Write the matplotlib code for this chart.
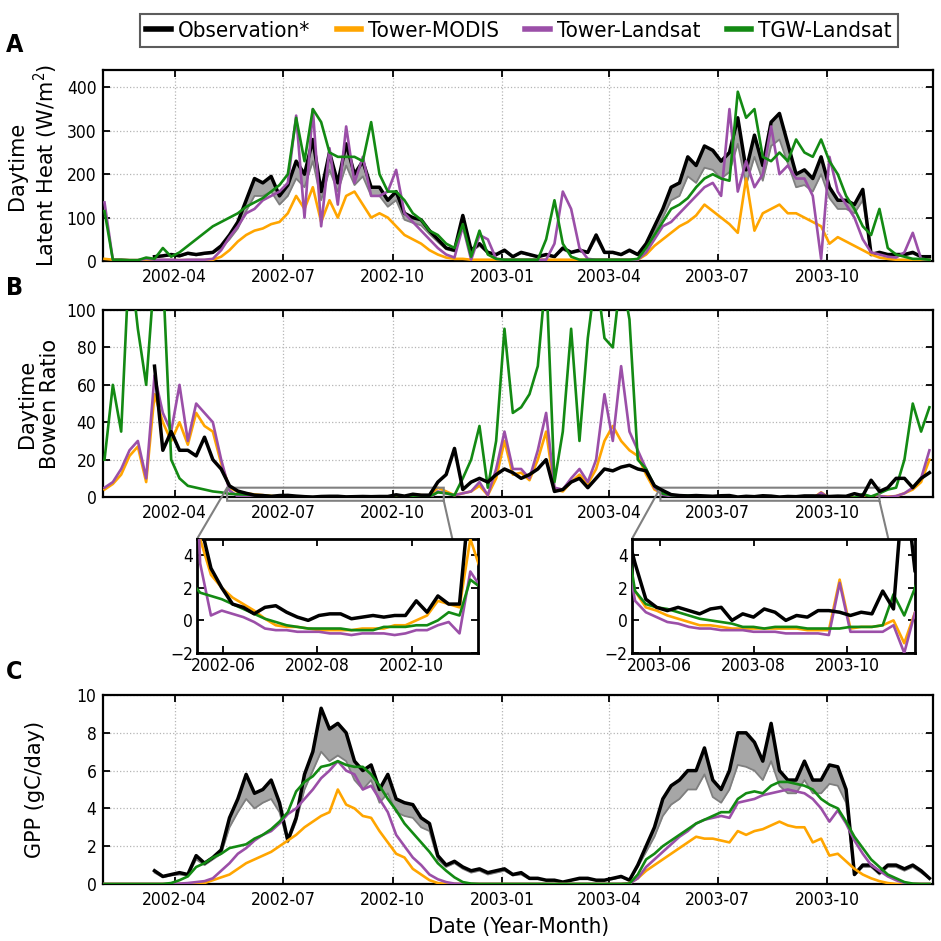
import numpy as np
import pandas as pd
import matplotlib
matplotlib.use("Agg")
import matplotlib.pyplot as plt
import matplotlib.dates as mdates
from matplotlib import font_manager

nan = np.nan

# ---------------- data (weekly samples) ----------------
start_date = "2002-02-01"
n_weeks = 100
dates = pd.date_range(start_date, periods=n_weeks, freq="7D")

# Panel A: daytime latent heat (W/m2)
A_obs = [nan, nan, nan, nan, nan, nan, 10, 12, 15, 12,
         18, 15, 18, 20, 35, 60, 90, 140, 190, 180,
         195, 150, 175, 230, 200, 280, 160, 250, 180, 270,
         200, 230, 170, 170, 140, 160, 110, 100, 95, 70,
         50, 30, 25, 105, 25, 40, 20, 15, 25, 10,
         20, 15, 10, 15, 10, 30, 20, 25, 20, 60,
         20, 20, 15, 25, 15, 40, 80, 120, 170, 180,
         240, 220, 265, 255, 230, 250, 330, 210, 290, 220,
         320, 340, 270, 200, 210, 190, 240, 170, 140, 140,
         130, 165, 15, 20, 15, 15, 15, 20, 10, 10]
A_obs_low = [nan, nan, nan, nan, nan, nan, 9, 11, 13, 11,
             16, 13, 16, 18, 30, 50, 75, 115, 150, 150,
             160, 130, 150, 190, 170, 230, 140, 210, 160, 220,
             175, 195, 150, 150, 125, 140, 95, 88, 82, 62,
             44, 27, 22, 90, 22, 35, 18, 13, 22, 9,
             18, 13, 9, 13, 9, 26, 18, 22, 18, 52,
             18, 18, 13, 22, 13, 35, 68, 100, 140, 150,
             195, 180, 215, 210, 190, 205, 270, 175, 240, 185,
             265, 280, 225, 170, 175, 160, 200, 145, 120, 120,
             110, 140, 13, 17, 13, 13, 13, 17, 9, 9]
A_tower_modis = [5, 3, 3, 2, 2, 2, 2, 2, 2, 2,
                 2, 2, 2, 3, 10, 25, 45, 60, 70, 75,
                 85, 90, 110, 150, 120, 170, 90, 140, 100, 150,
                 160, 130, 100, 110, 100, 80, 60, 50, 40, 25,
                 15, 8, 5, 5, 3, 3, 3, 3, 3, 3,
                 3, 3, 3, 3, 3, 3, 3, 3, 3, 3,
                 3, 3, 3, 3, 3, 15, 35, 50, 65, 80,
                 90, 105, 130, 115, 100, 85, 65, 190, 70, 110,
                 120, 130, 110, 110, 100, 90, 80, 40, 55, 45,
                 35, 25, 15, 8, 5, 3, 3, 3, 3, 3]
A_tower_landsat = [135, 3, 3, 2, 2, 5, 3, 3, 3, 2,
                   3, 3, 3, 5, 25, 55, 80, 110, 120, 140,
                   150, 160, 180, 335, 100, 350, 80, 260, 130, 310,
                   180, 240, 150, 150, 160, 210, 110, 90, 70, 50,
                   30, 15, 8, 80, 3, 60, 50, 5, 3, 3,
                   3, 3, 3, 3, 40, 160, 120, 30, 5, 3,
                   3, 3, 3, 3, 3, 20, 50, 80, 90, 110,
                   130, 150, 170, 180, 150, 350, 160, 230, 170, 200,
                   310, 200, 220, 190, 190, 150, 5, 240, 160, 130,
                   100, 50, 20, 15, 10, 8, 20, 65, 5, 3]
A_tgw_landsat = [115, 3, 3, 2, 2, 8, 5, 30, 10, 20,
                 35, 50, 65, 80, 90, 100, 110, 125, 135, 145,
                 160, 175, 200, 330, 230, 350, 320, 250, 240, 240,
                 240, 230, 320, 200, 160, 160, 140, 110, 95, 70,
                 60, 40, 30, 85, 10, 70, 15, 5, 3, 3,
                 3, 3, 3, 50, 140, 40, 10, 3, 3, 3,
                 3, 3, 3, 3, 5, 30, 60, 90, 120, 130,
                 145, 170, 190, 200, 190, 185, 390, 330, 350, 240,
                 230, 250, 230, 280, 250, 240, 280, 230, 200, 150,
                 120, 80, 60, 120, 30, 15, 10, 5, 5, 3]

# Panel B: daytime Bowen ratio
B_obs = [nan, nan, nan, nan, nan, nan, 70, 25, 35, 25,
         25, 22, 32, 20, 15, 6, 3.2, 2.0, 1.0, 0.8,
         0.4, 0.8, 0.9, 0.5, 0.2, 0.0, 0.3, 0.4, 0.4, 0.1,
         0.2, 0.3, 0.2, 0.3, 0.3, 1.2, 0.5, 1.5, 1.0, 1.0,
         8, 12, 26, 4, 8, 10, 8, 12, 15, 13,
         10, 12, 15, 20, 3, 4, 8, 10, 5, 10,
         15, 14, 16, 17, 15, 14, 6, 3.5, 1.3, 0.8,
         0.6, 0.8, 0.6, 0.4, 0.7, 0.8, 0.0, 0.4, 0.2, 0.7,
         0.5, 0.0, 0.3, 0.2, 0.6, 0.6, 0.5, 0.3, 0.5, 0.4,
         1.8, 0.7, 9, 3, 5, 10, 10, 5, 10, 13]
B_tower_modis = [4, 7, 12, 22, 27, 8, 55, 40, 30, 40,
                 28, 45, 38, 35, 18, 5, 2.8, 2.0, 1.4, 1.0,
                 0.6, 0.1, -0.3, -0.4, -0.4, -0.5, -0.6, -0.6, -0.6, -0.6,
                 -0.5, -0.5, -0.5, -0.3, -0.3, 0.0, 0.3, 1.2, 1.0, 0.8,
                 5, 3, 1, 2, 3, 6, 1, 10, 30, 12,
                 13, 9, 20, 35, 4, 3, 8, 12, 7, 15,
                 30, 38, 30, 25, 22, 12, 4, 1.8, 0.8, 0.6,
                 0.3, 0.1, -0.1, -0.3, -0.3, -0.4, -0.5, -0.5, -0.5, -0.5,
                 -0.5, -0.5, -0.5, -0.6, -0.6, -0.6, 2.5, -0.5, -0.4, -0.4,
                 -0.3, 0.0, -1.4, 0.5, 0.2, 0.5, 2, 4, 8, 20]
B_tower_landsat = [5, 8, 15, 25, 30, 10, 65, 45, 35, 60,
                   30, 50, 45, 40, 20, 3.5, 0.3, 0.6, 0.4, 0.2,
                   -0.1, -0.5, -0.6, -0.6, -0.7, -0.7, -0.7, -0.8, -0.8, -0.9,
                   -0.8, -0.8, -0.8, -0.9, -0.8, -0.6, -0.6, -0.3, -0.1, -0.8,
                   3, 2, 1, 2, 3, 8, 1, 15, 35, 15,
                   15, 10, 25, 45, 5, 4, 10, 15, 8, 20,
                   55, 30, 70, 35, 25, 15, 5, 1.2, 0.5, 0.2,
                   -0.1, -0.2, -0.4, -0.5, -0.5, -0.6, -0.6, -0.6, -0.7, -0.7,
                   -0.7, -0.8, -0.8, -0.8, -0.8, -0.9, 2.3, -0.7, -0.7, -0.7,
                   -0.7, -0.3, -2.0, 0.5, 0.0, 0.5, 2, 5, 10, 25]
B_tgw_landsat = [20, 60, 35, 130, 90, 60, 120, 120, 20, 10,
                 6, 5, 4, 3, 2.5, 1.7, 1.5, 1.3, 1.0, 0.7,
                 0.4, 0.1, -0.1, -0.3, -0.4, -0.5, -0.5, -0.5, -0.5, -0.6,
                 -0.6, -0.6, -0.4, -0.4, -0.4, -0.3, -0.3, 0.0, 0.5, 0.3,
                 2.5, 2, 1, 10, 20, 38, 5, 30, 90, 45,
                 48, 55, 70, 120, 8, 35, 90, 30, 85, 120,
                 85, 80, 120, 95, 20, 15, 6, 1.8, 1.0, 0.8,
                 0.7, 0.5, 0.3, 0.1, 0.0, -0.1, -0.2, -0.4, -0.4, -0.5,
                 -0.4, -0.4, -0.4, -0.5, -0.5, -0.5, -0.5, -0.4, -0.4, -0.4,
                 -0.3, 1.6, 0.3, 2, 4, 5, 20, 50, 35, 48]

# Panel C: GPP (gC/day)
C_obs = [nan, nan, nan, nan, nan, nan, 0.7, 0.4, 0.5, 0.6,
         0.5, 1.5, 1.1, 1.4, 1.8, 3.5, 4.5, 5.8, 4.8, 5.0,
         5.5, 4.3, 2.3, 3.5, 5.8, 7.0, 9.3, 8.2, 8.5, 8.0,
         6.5, 6.0, 6.3, 5.0, 5.8, 4.5, 4.3, 4.2, 3.5, 3.2,
         1.5, 1.0, 1.2, 0.9, 0.7, 0.8, 0.6, 0.7, 0.8, 0.5,
         0.6, 0.3, 0.3, 0.2, 0.2, 0.1, 0.2, 0.3, 0.3, 0.2,
         0.2, 0.3, 0.4, 0.2, 1.0, 2.0, 3.0, 4.5, 5.2, 5.5,
         6.0, 6.0, 7.2, 5.5, 5.0, 6.0, 8.0, 8.0, 7.5, 6.5,
         8.5, 6.0, 5.5, 5.5, 6.5, 5.5, 5.5, 6.3, 6.2, 5.0,
         0.5, 1.0, 1.0, 0.6, 1.0, 1.0, 0.8, 1.0, 0.7, 0.3]
C_obs_low = [nan, nan, nan, nan, nan, nan, 0.6, 0.35, 0.45, 0.5,
             0.45, 1.3, 1.0, 1.3, 1.6, 3.0, 3.8, 4.5, 4.0, 4.3,
             4.5, 3.8, 2.2, 3.3, 5.0, 6.0, 7.0, 6.5, 6.8, 6.5,
             5.5, 5.0, 5.5, 4.3, 4.8, 3.8, 3.6, 3.5, 3.0, 2.8,
             1.3, 0.9, 1.1, 0.8, 0.6, 0.7, 0.5, 0.6, 0.7, 0.45,
             0.5, 0.25, 0.25, 0.2, 0.2, 0.1, 0.2, 0.25, 0.25, 0.2,
             0.2, 0.25, 0.35, 0.2, 0.9, 1.7, 2.5, 3.6, 4.2, 4.5,
             5.0, 5.0, 5.8, 4.6, 4.3, 5.0, 6.3, 6.2, 6.0, 5.5,
             6.5, 5.2, 4.8, 4.8, 5.5, 4.8, 4.8, 5.3, 5.2, 4.3,
             0.5, 0.9, 0.9, 0.5, 0.9, 0.9, 0.7, 0.9, 0.6, 0.3]
C_tower_modis = [0, 0, 0, 0, 0, 0, 0, 0, 0, 0,
                 0, 0, 0.05, 0.2, 0.35, 0.5, 0.8, 1.1, 1.3, 1.5,
                 1.7, 2.0, 2.3, 2.6, 3.0, 3.3, 3.6, 3.8, 5.0, 4.2,
                 4.0, 3.6, 3.5, 2.8, 2.2, 1.6, 1.4, 0.8, 0.5, 0.2,
                 0.05, 0, 0, 0, 0, 0, 0, 0, 0, 0,
                 0, 0, 0, 0, 0, 0, 0, 0, 0, 0,
                 0, 0, 0, 0.05, 0.3, 0.7, 1.0, 1.3, 1.6, 1.9,
                 2.2, 2.5, 2.4, 2.4, 2.3, 2.2, 2.8, 2.6, 2.8, 2.9,
                 3.1, 3.3, 3.1, 3.0, 3.0, 2.2, 2.4, 1.5, 1.6, 1.2,
                 0.8, 0.5, 0.3, 0.15, 0.05, 0, 0, 0, 0, 0]
C_tower_landsat = [0, 0, 0, 0, 0, 0, 0, 0, 0, 0.02,
                   0.05, 0.1, 0.15, 0.3, 0.7, 1.1, 1.6, 1.9, 2.3, 2.6,
                   2.8, 3.2, 3.7, 4.0, 4.5, 5.0, 5.6, 6.0, 6.5, 6.0,
                   5.8, 5.0, 5.2, 4.5, 3.8, 2.6, 2.0, 1.4, 1.0, 0.5,
                   0.25, 0.1, 0.02, 0, 0, 0, 0, 0, 0, 0,
                   0, 0, 0, 0, 0, 0, 0, 0, 0, 0,
                   0, 0, 0, 0.02, 0.3, 0.9, 1.3, 1.7, 2.1, 2.5,
                   2.8, 3.2, 3.4, 3.5, 3.6, 3.5, 4.3, 4.4, 4.5, 4.7,
                   4.8, 4.9, 5.0, 4.9, 4.8, 4.5, 4.0, 3.3, 3.9, 3.2,
                   2.3, 1.6, 1.0, 0.7, 0.4, 0.2, 0.05, 0, 0, 0]
C_tgw_landsat = [0, 0, 0, 0, 0, 0, 0, 0, 0.05, 0.2,
                 0.4, 0.9, 1.1, 1.4, 1.6, 1.9, 2.0, 2.1, 2.4, 2.6,
                 2.9, 3.3, 3.8, 4.9, 5.4, 5.7, 6.2, 6.3, 6.5, 6.3,
                 6.2, 6.2, 5.8, 5.2, 4.5, 3.9, 3.2, 2.7, 2.2, 1.7,
                 1.1, 0.7, 0.35, 0.1, 0.02, 0, 0, 0, 0, 0,
                 0, 0, 0, 0, 0, 0, 0, 0, 0, 0,
                 0, 0, 0, 0.02, 0.5, 1.3, 1.6, 2.0, 2.3, 2.6,
                 2.9, 3.2, 3.4, 3.6, 3.8, 3.8, 4.5, 4.8, 4.9, 4.8,
                 5.2, 5.4, 5.4, 5.3, 5.2, 5.0, 4.5, 4.2, 4.0, 3.3,
                 2.5, 1.9, 1.3, 0.9, 0.5, 0.3, 0.1, 0.02, 0, 0]

series_names = ["Observation*", "Tower-MODIS", "Tower-Landsat", "TGW-Landsat"]
series_colors = ["black", "#FFA500", "#9B4FA8", "#138A13"]
band_color = "#a6a6a6"
band_line = "#7f7f7f"

# ---------------- fonts ----------------
have_cond = any(f.name == "DejaVu Sans" and f.stretch == "condensed"
                for f in font_manager.fontManager.ttflist)
names = {f.name for f in font_manager.fontManager.ttflist}
if have_cond:
    HFONT = dict(family="DejaVu Sans", stretch="condensed")
elif "Liberation Sans Narrow" in names:
    HFONT = dict(family="Liberation Sans Narrow")
else:
    HFONT = dict(family="DejaVu Sans")
plt.rcParams["font.family"] = HFONT["family"]
if "stretch" in HFONT:
    plt.rcParams["font.stretch"] = HFONT["stretch"]

# ---------------- figure ----------------
fig = plt.figure(figsize=(9.41, 9.41), dpi=100)
L, W = 0.1098, 0.8817
axA = fig.add_axes([L, 0.7226, W, 0.2030])
axB = fig.add_axes([L, 0.4718, W, 0.1987])
axC = fig.add_axes([L, 0.0606, W, 0.2008])
ins1 = fig.add_axes([0.2094, 0.3061, 0.2986, 0.1212])
ins2 = fig.add_axes([0.6716, 0.3061, 0.3008, 0.1212])

lw_obs, lw_mod = 2.5, 1.9


def draw(ax, obs, mod, tl, tgw, low=None, obs_top=False):
    if low is not None:
        ax.fill_between(dates, low, obs, color=band_color, lw=0, zorder=1)
        ax.plot(dates, low, color=band_line, lw=1.3, zorder=1.5)
    zo = 5 if obs_top else 2
    ax.plot(dates, obs, color=series_colors[0], lw=lw_obs, zorder=zo, label=series_names[0])
    ax.plot(dates, mod, color=series_colors[1], lw=lw_mod, zorder=3, label=series_names[1])
    ax.plot(dates, tl, color=series_colors[2], lw=lw_mod, zorder=3.5, label=series_names[2])
    ax.plot(dates, tgw, color=series_colors[3], lw=lw_mod, zorder=4, label=series_names[3])


def style(ax, grid=True):
    for s in ax.spines.values():
        s.set_linewidth(1.6)
    ax.tick_params(direction="in", top=True, right=True, length=5, width=1.3,
                   labelsize=12.5, pad=5)
    if grid:
        ax.grid(True, linestyle=":", color="#b5b5b5", linewidth=0.9)
        ax.set_axisbelow(True)


draw(axA, A_obs, A_tower_modis, A_tower_landsat, A_tgw_landsat, low=A_obs_low)
draw(axB, B_obs, B_tower_modis, B_tower_landsat, B_tgw_landsat, obs_top=True)
draw(axC, C_obs, C_tower_modis, C_tower_landsat, C_tgw_landsat, low=C_obs_low)
draw(ins1, B_obs, B_tower_modis, B_tower_landsat, B_tgw_landsat, obs_top=True)
draw(ins2, B_obs, B_tower_modis, B_tower_landsat, B_tgw_landsat, obs_top=True)

xlim = (pd.Timestamp("2002-01-31"), pd.Timestamp("2003-12-29"))
for ax in (axA, axB, axC):
    ax.set_xlim(xlim)
    ax.xaxis.set_major_locator(mdates.MonthLocator(bymonth=[1, 4, 7, 10]))
    ax.xaxis.set_major_formatter(mdates.DateFormatter("%Y-%m"))
    style(ax)

axA.set_ylim(0, 440)
axA.set_yticks([0, 100, 200, 300, 400])
axB.set_ylim(0, 100)
axB.set_yticks([0, 20, 40, 60, 80, 100])
axC.set_ylim(0, 10)
axC.set_yticks([0, 2, 4, 6, 8, 10])

ylab_font = dict(family="DejaVu Sans", stretch="normal", fontsize=15)
axA.set_ylabel("Daytime\nLatent Heat (W/m$^2$)", **ylab_font)
axB.set_ylabel("Daytime\nBowen Ratio", **ylab_font)
axC.set_ylabel("GPP (gC/day)", **ylab_font)
axA.yaxis.set_label_coords(-0.052, 0.5)
axB.yaxis.set_label_coords(-0.052, 0.5)
axC.yaxis.set_label_coords(-0.070, 0.5)
axC.set_xlabel("Date (Year-Month)", fontsize=16, labelpad=6)

ins1.set_xlim(pd.Timestamp("2002-05-15"), pd.Timestamp("2002-11-13"))
ins2.set_xlim(pd.Timestamp("2003-05-14"), pd.Timestamp("2003-11-14"))
for ins in (ins1, ins2):
    ins.set_ylim(-2, 5)
    ins.set_yticks([-2, 0, 2, 4])
    ins.xaxis.set_major_locator(mdates.MonthLocator(bymonth=[2, 4, 6, 8, 10, 12]))
    ins.xaxis.set_major_formatter(mdates.DateFormatter("%Y-%m"))
    style(ins, grid=False)
    ins.tick_params(pad=3)
    for s in ins.spines.values():
        s.set_linewidth(2.0)
    ind = axB.indicate_inset_zoom(ins, edgecolor="#808080", alpha=1.0, linewidth=1.5)

# legend
handles, labels = axA.get_legend_handles_labels()
order = [labels.index(n) for n in series_names]
leg = fig.legend([handles[i] for i in order], [labels[i] for i in order],
                 loc="upper center", bbox_to_anchor=(0.5515, 0.997), ncol=4,
                 fontsize=16, frameon=True, fancybox=False, edgecolor="#333333",
                 handlelength=1.1, handletextpad=0.3, columnspacing=1.2,
                 borderpad=0.3)
leg.get_frame().set_linewidth(1.5)
for line in leg.get_lines():
    line.set_linewidth(4)

for letter, yy in (("A", 0.952), ("B", 0.694), ("C", 0.286)):
    fig.text(0.006, yy, letter, fontsize=18, fontweight="bold", va="center", ha="left")

fig.savefig("out.png", dpi=100)
